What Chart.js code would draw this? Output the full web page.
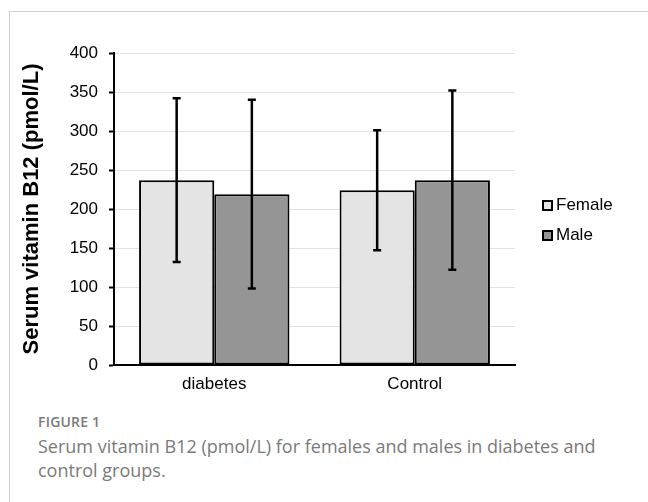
<!DOCTYPE html>
<html>
<head>
<meta charset="utf-8">
<script src="https://cdn.jsdelivr.net/npm/chart.js@4/dist/chart.umd.min.js"></script>
<style>
  html, body { margin:0; padding:0; background:#fff; }
  body { width:648px; height:502px; position:relative; overflow:hidden; }
  #frame { position:absolute; left:9px; top:11px; width:650px; height:500px; border-top:1px solid #cfcfcf; border-left:1px solid #cfcfcf; }
  #wrap { position:absolute; left:0; top:0; width:648px; height:400px; }
  .leg { position:absolute; left:542px; font:17px "Liberation Sans", Arial, sans-serif; color:#000; height:20px; line-height:20px; }
  .leg span.box { position:absolute; left:0; top:5px; width:7px; height:7px; border:2px solid #000; }
  .leg span.txt { position:absolute; left:14px; top:0; white-space:nowrap; }
  #fig { position:absolute; left:38px; top:412px; font:600 14px "Open Sans", sans-serif; color:#7a7a7a; letter-spacing:0.2px; }
  #cap { position:absolute; left:38px; top:434px; width:605px; font:18px/24px "Open Sans", sans-serif; color:#7a7a7a; }
</style>
</head>
<body>
<div id="frame"></div>
<div id="wrap"><canvas id="c" width="648" height="400"></canvas></div>
<div class="leg" style="top:195px"><span class="box" style="background:#e4e4e4"></span><span class="txt">Female</span></div>
<div class="leg" style="top:225px"><span class="box" style="background:#959595"></span><span class="txt">Male</span></div>
<div id="fig">FIGURE 1</div>
<div id="cap">Serum vitamin B12 (pmol/L) for females and males in diabetes and control groups.</div>
<script>
const categories = ["diabetes", "Control"];
const seriesNames = ["Female", "Male"];
const femaleMean = [237, 224];
const femaleSD = [105, 77];
const maleMean = [219, 237];
const maleSD = [121, 115];
const yTicks = [0, 50, 100, 150, 200, 250, 300, 350, 400];

const errorBars = {
  id: 'errorBars',
  afterDatasetsDraw(chart) {
    const ctx = chart.ctx;
    const ys = chart.scales.y;
    chart.data.datasets.forEach((ds, di) => {
      const meta = chart.getDatasetMeta(di);
      meta.data.forEach((el, i) => {
        const m = ds.data[i], sd = ds.sd[i];
        const yTop = ys.getPixelForValue(m + sd);
        const yBot = ys.getPixelForValue(m - sd);
        const x = el.x;
        ctx.save();
        ctx.strokeStyle = '#000';
        ctx.lineWidth = 2.5;
        ctx.beginPath();
        ctx.moveTo(x, yTop); ctx.lineTo(x, yBot);
        ctx.moveTo(x - 4, yTop); ctx.lineTo(x + 4, yTop);
        ctx.moveTo(x - 4, yBot); ctx.lineTo(x + 4, yBot);
        ctx.stroke();
        ctx.restore();
      });
    });
  }
};

const font = { family: '"Liberation Sans", Arial, sans-serif', size: 17 };

new Chart(document.getElementById('c'), {
  type: 'bar',
  data: {
    labels: categories,
    datasets: [
      { label: seriesNames[0], data: femaleMean, sd: femaleSD, backgroundColor: '#e4e4e4', borderColor: '#000', borderWidth: 2, borderSkipped: false },
      { label: seriesNames[1], data: maleMean, sd: maleSD, backgroundColor: '#959595', borderColor: '#000', borderWidth: 2, borderSkipped: false }
    ]
  },
  options: {
    responsive: false,
    animation: false,
    devicePixelRatio: 1,
    layout: { padding: { left: 0, top: 53, right: 133, bottom: 0 } },
    datasets: { bar: { categoryPercentage: 0.75, barPercentage: 1.0 } },
    plugins: { legend: { display: false }, tooltip: { enabled: false } },
    scales: {
      x: {
        grid: { display: false, drawTicks: false },
        border: { display: true, color: '#000', width: 2 },
        ticks: { color: '#000', font: font, padding: 9 },
        afterFit(s) { s.height = 35; }
      },
      y: {
        min: 0, max: 400,
        afterBuildTicks(s) { s.ticks = yTicks.map(v => ({ value: v })); },
        grid: { color: '#e2e2e2', lineWidth: 1, drawTicks: true, tickLength: 5, tickColor: '#000', tickWidth: 2 },
        border: { display: true, color: '#000', width: 2 },
        ticks: { color: '#000', font: font, padding: 11 },
        title: { display: true, text: 'Serum vitamin B12 (pmol/L)', color: '#000', font: { family: font.family, size: 22, weight: 'bold' }, padding: { top: 19, bottom: 0 } },
        afterFit(s) { s.width = 114; }
      }
    }
  },
  plugins: [errorBars]
});
</script>
</body>
</html>
